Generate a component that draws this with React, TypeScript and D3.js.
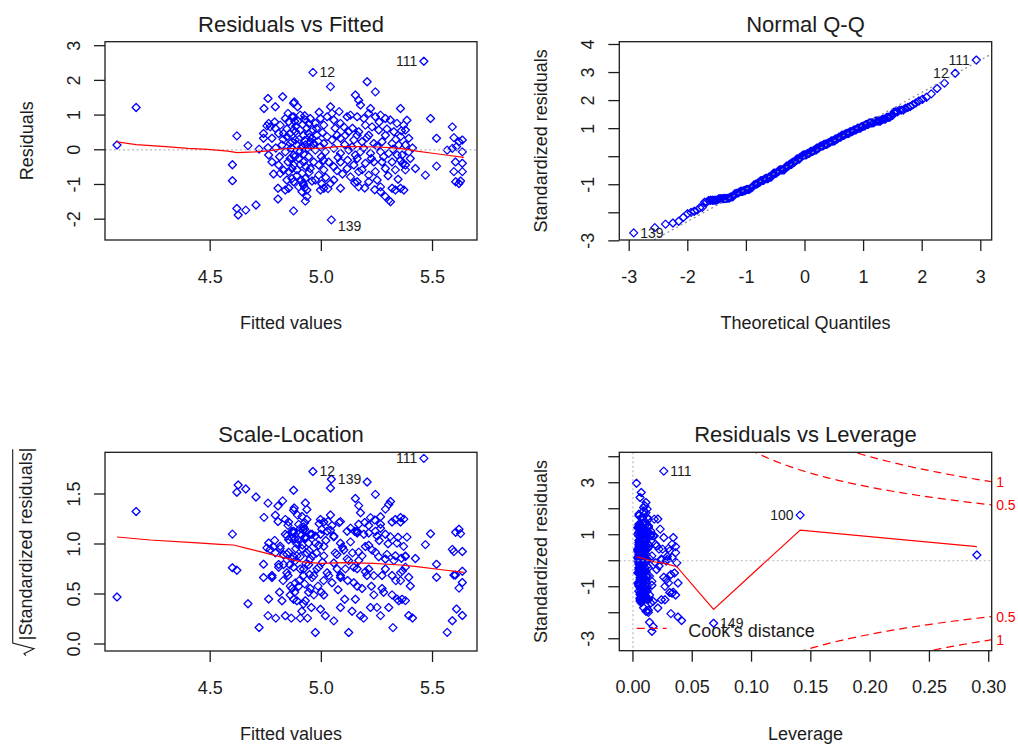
import React from "react";
import * as d3 from "d3";

// [fitted value, residual, leverage, observation id (only for labelled points)]
type Obs = [number, number, number, string?];

const observations: Obs[] = [
  [4.081, 0.14, 0.29], [4.167, 1.22, 0.141, "100"], [4.62, 0.4, 0.036], [4.6, -0.43, 0.031],
  [4.6, -0.89, 0.034], [4.62, -1.69, 0.041], [4.626, -1.88, 0.017], [4.66, -1.74, 0.068, "149"],
  [4.706, -1.59, 0.038], [4.67, 0.12, 0.029], [4.72, 0.02, 0.024],
  [4.76, 1.48, 0.012], [4.826, 1.53, 0.009], [4.742, 1.19, 0.021], [4.793, 1.24, 0.007],
  [4.875, 1.34, 0.005], [4.763, 0.76, 0.015], [4.755, 0.69, 0.01], [4.77, 0.66, 0.026],
  [4.793, 0.62, 0.008], [4.808, 0.47, 0.013], [4.838, 0.9, 0.006], [4.853, 0.81, 0.011],
  [4.868, 0.95, 0.004], [4.83, 0.47, 0.019], [4.845, 0.38, 0.007], [4.823, 0.14, 0.01],
  [4.86, 0.18, 0.006], [4.74, 0.47, 0.033], [4.74, 0.33, 0.012], [4.778, 0.33, 0.009],
  [4.76, 0.06, 0.014], [4.763, -0.15, 0.022], [4.778, -0.35, 0.008], [4.808, -0.44, 0.011],
  [4.815, -0.68, 0.006], [4.83, -0.59, 0.016], [4.853, -0.63, 0.005], [4.868, -0.54, 0.009],
  [4.845, -0.87, 0.012], [4.868, -0.83, 0.007], [4.805, -1.11, 0.027], [4.805, -1.42, 0.013],
  [4.838, -1.16, 0.008], [4.853, -1.11, 0.01], [4.875, -1.76, 0.014], [4.875, -0.15, 0.006],
  [4.86, -0.25, 0.008], [4.838, -0.06, 0.005], [4.875, 0.57, 0.009], [4.883, 0.28, 0.004],
  [4.815, 0.71, 0.018],
  [4.962, 2.23, 0.003, "12"], [5.041, 1.82, 0.006], [4.878, 1.38, 0.011], [4.893, 1.24, 0.008],
  [4.875, 0.95, 0.013], [4.905, 1.0, 0.005], [4.928, 0.86, 0.007], [4.943, 0.76, 0.004],
  [4.973, 0.76, 0.009], [4.996, 0.9, 0.006], [5.041, 1.24, 0.012], [5.048, 1.05, 0.005],
  [5.056, 0.86, 0.008], [5.011, 0.71, 0.017], [5.153, 1.58, 0.01], [5.116, 0.95, 0.007],
  [5.131, 1.0, 0.013], [5.086, 0.76, 0.006], [5.101, 0.66, 0.009], [4.883, 0.52, 0.005],
  [4.905, 0.57, 0.01], [4.92, 0.42, 0.006], [4.943, 0.47, 0.008], [4.958, 0.33, 0.004],
  [4.966, 0.18, 0.011], [4.98, 0.42, 0.005], [4.868, 0.23, 0.007], [4.89, 0.14, 0.009],
  [4.928, 0.14, 0.005], [4.95, 0.23, 0.006], [4.973, -0.01, 0.004], [4.996, 0.09, 0.008],
  [5.011, 0.18, 0.005], [5.026, 0.38, 0.007], [5.048, 0.28, 0.01], [5.071, 0.42, 0.006],
  [5.086, 0.33, 0.005], [5.108, 0.42, 0.014], [5.123, 0.52, 0.006], [5.146, 0.28, 0.008],
  [5.161, 0.42, 0.02], [5.018, -0.06, 0.006], [5.056, 0.04, 0.009], [5.086, -0.1, 0.005],
  [5.123, -0.01, 0.012], [5.153, -0.15, 0.007], [4.88, -0.2, 0.01], [4.898, -0.25, 0.005],
  [4.92, -0.35, 0.008], [4.943, -0.2, 0.006], [4.875, -0.44, 0.012], [4.89, -0.58, 0.007],
  [4.913, -0.68, 0.005], [4.928, -0.83, 0.009], [4.95, -0.54, 0.006], [4.966, -0.35, 0.004],
  [4.988, -0.44, 0.007], [5.011, -0.58, 0.01], [5.033, -0.35, 0.005], [5.056, -0.49, 0.008],
  [5.086, -0.35, 0.006], [5.116, -0.54, 0.011], [5.146, -0.44, 0.007], [5.168, -0.63, 0.009],
  [4.875, -0.92, 0.008], [4.898, -1.07, 0.006], [4.92, -1.02, 0.011], [4.935, -1.16, 0.007],
  [4.913, -1.21, 0.015], [4.935, -1.35, 0.009], [4.928, -1.48, 0.013], [4.996, -1.16, 0.007],
  [5.011, -1.11, 0.012], [5.041, -0.97, 0.006], [5.056, -0.87, 0.009], [5.086, -1.11, 0.024],
  [5.045, -2.02, 0.016, "139"], [4.988, -0.73, 0.005], [4.973, -0.87, 0.008], [5.131, -0.78, 0.006],
  [5.161, -0.92, 0.01],
  [5.461, 2.55, 0.026, "111"], [5.206, 1.96, 0.007], [5.243, 1.67, 0.011], [5.168, 1.43, 0.009],
  [5.176, 1.29, 0.005], [5.221, 1.19, 0.013], [5.213, 1.05, 0.006], [5.356, 1.19, 0.018],
  [5.161, 0.95, 0.005], [5.191, 0.9, 0.008], [5.243, 0.95, 0.006], [5.266, 1.0, 0.01],
  [5.288, 0.9, 0.007], [5.31, 0.86, 0.012], [5.34, 0.76, 0.008], [5.37, 0.71, 0.015],
  [5.378, 0.57, 0.01], [5.198, 0.71, 0.005], [5.228, 0.66, 0.009], [5.258, 0.57, 0.006],
  [5.168, 0.52, 0.008], [5.213, 0.42, 0.005], [5.288, 0.42, 0.011], [5.326, 0.52, 0.007],
  [5.356, 0.38, 0.013], [5.393, 0.33, 0.022], [5.183, 0.23, 0.006], [5.236, 0.18, 0.008],
  [5.273, 0.23, 0.005], [5.318, 0.18, 0.009], [5.348, 0.14, 0.007], [5.378, 0.14, 0.016],
  [5.176, -0.06, 0.005], [5.221, -0.1, 0.007], [5.266, -0.06, 0.01], [5.303, -0.1, 0.006],
  [5.341, -0.15, 0.012], [5.363, -0.15, 0.008], [5.393, -0.06, 0.019], [5.161, -0.25, 0.006],
  [5.198, -0.39, 0.009], [5.236, -0.35, 0.005], [5.273, -0.35, 0.007], [5.318, -0.35, 0.01],
  [5.356, -0.3, 0.006], [5.378, -0.44, 0.014], [5.423, -0.54, 0.028], [5.183, -0.58, 0.007],
  [5.213, -0.73, 0.005], [5.243, -0.63, 0.009], [5.288, -0.54, 0.006], [5.333, -0.58, 0.011],
  [5.378, -0.58, 0.008], [5.168, -1.07, 0.01], [5.213, -0.92, 0.006], [5.251, -0.87, 0.008],
  [5.266, -1.07, 0.012], [5.266, -1.21, 0.007], [5.288, -1.35, 0.021], [5.318, -1.11, 0.009],
  [5.333, -1.16, 0.006], [5.356, -1.11, 0.013], [5.371, -1.16, 0.017], [5.303, -1.45, 0.011],
  [5.311, -1.5, 0.032], [5.468, -0.73, 0.027],
  [5.491, 0.9, 0.023], [5.589, 0.66, 0.034], [5.518, 0.33, 0.025], [5.596, 0.35, 0.03],
  [5.619, 0.23, 0.036], [5.634, 0.28, 0.031], [5.608, 0.09, 0.033], [5.634, -0.06, 0.037],
  [5.589, 0.04, 0.029], [5.566, -0.01, 0.028], [5.603, -0.35, 0.035], [5.634, -0.39, 0.032],
  [5.596, -0.63, 0.03], [5.634, -0.63, 0.038], [5.604, -0.92, 0.033], [5.619, -0.97, 0.036],
  [5.626, -0.9, 0.031], [5.518, -0.47, 0.026],
  [4.9, 0.3, 0.006], [4.912, 0.08, 0.004], [4.925, 0.27, 0.007], [4.938, 0.05, 0.005],
  [4.947, 0.36, 0.009], [4.955, 0.1, 0.004], [4.935, 0.62, 0.006], [4.95, 0.9, 0.008],
  [4.96, 0.58, 0.005], [4.915, 0.73, 0.011], [4.895, 0.82, 0.007], [4.885, 0.68, 0.006],
  [4.905, -0.05, 0.005], [4.92, -0.12, 0.009], [4.93, -0.48, 0.006], [4.945, -0.65, 0.004],
  [4.958, -0.9, 0.007], [4.91, -0.88, 0.005], [4.918, -0.97, 0.01], [4.925, -1.1, 0.006],
  [4.905, -0.42, 0.008], [4.89, -0.75, 0.012], [4.865, 0.05, 0.006], [4.85, -0.35, 0.008],
  [4.845, 0.6, 0.011], [4.858, 0.47, 0.005], [4.828, 0.3, 0.007], [4.812, -0.2, 0.013],
  [4.795, 0.05, 0.01], [4.785, -0.7, 0.016], [4.85, 1.05, 0.009], [4.88, 0.82, 0.005],
  [4.925, 0.98, 0.013], [4.978, 0.62, 0.006], [4.985, 0.25, 0.009], [5.0, -0.2, 0.005],
  [5.005, 0.5, 0.007], [5.02, -0.8, 0.011], [5.03, -1.12, 0.008], [5.002, -0.98, 0.014],
  [5.026, 0.95, 0.006], [5.062, 0.62, 0.01], [5.075, -0.22, 0.007], [5.095, -0.7, 0.005],
  [5.105, 0.15, 0.008], [5.118, -0.3, 0.011], [5.138, 0.08, 0.006], [5.14, 0.62, 0.009],
  [5.15, -0.95, 0.007], [5.19, 0.05, 0.005], [5.205, 0.35, 0.008], [5.225, -0.25, 0.006],
  [5.25, 0.1, 0.01], [5.26, 0.8, 0.007], [5.28, -0.2, 0.005], [5.295, 0.6, 0.009],
  [5.3, -0.75, 0.008], [5.322, 0.02, 0.012], [5.335, 0.3, 0.006], [5.345, -0.85, 0.01],
  [5.36, 0.55, 0.007], [5.365, -0.4, 0.009], [5.385, 0.85, 0.015], [5.4, -0.25, 0.02],
  [5.41, 0.05, 0.024], [5.24, -1.15, 0.008], [5.195, -1.1, 0.013], [5.08, 1.1, 0.011],
  [5.07, -0.6, 0.006], [4.99, 1.08, 0.008], [5.01, -0.3, 0.006], [4.79, 0.8, 0.012],
];

const residualStdError = 0.75;
const numCoefficients = 4;
const cookLevels = [0.5, 1];

// smoothers
const residSmoothX = [4.081, 4.167, 4.3, 4.4, 4.49, 4.58, 4.62, 4.7, 4.76, 4.83, 4.9, 5.0, 5.07, 5.16, 5.25, 5.31, 5.38, 5.43, 5.5, 5.56, 5.641];
const residSmoothY = [0.23, 0.15, 0.09, 0.04, 0.01, -0.04, -0.08, -0.06, -0.03, 0.03, 0.04, 0.05, 0.09, 0.09, 0.08, 0.06, 0.02, -0.04, -0.1, -0.15, -0.22];
const scaleSmoothX = [4.081, 4.23, 4.425, 4.545, 4.605, 4.665, 4.755, 4.83, 4.905, 4.995, 5.116, 5.236, 5.356, 5.43, 5.551, 5.641];
const scaleSmoothY = [1.07, 1.04, 1.013, 0.997, 0.99, 0.957, 0.907, 0.863, 0.823, 0.807, 0.813, 0.807, 0.79, 0.773, 0.74, 0.717];
const levSmoothX = [0.003, 0.0104, 0.0174, 0.027, 0.037, 0.068, 0.141, 0.29];
const levSmoothY = [0.15, 0.065, -0.04, -0.1, -0.23, -1.87, 1.18, 0.54];

const fittedTicks = [4.5, 5.0, 5.5];
const fittedTickLabels = ["4.5", "5.0", "5.5"];
const residTicks = [-2, -1, 0, 1, 2, 3];
const residTickLabels = ["-2", "-1", "0", "1", "2", "3"];
const qqXTicks = [-3, -2, -1, 0, 1, 2, 3];
const qqXTickLabels = ["-3", "-2", "-1", "0", "1", "2", "3"];
const qqYTicks = [-3, -2, -1, 0, 1, 2, 3, 4];
const qqYTickLabels = ["-3", "", "-1", "", "1", "2", "3", "4"];
const slTicks = [0, 0.5, 1.0, 1.5];
const slTickLabels = ["0.0", "0.5", "1.0", "1.5"];
const levXTicks = [0, 0.05, 0.1, 0.15, 0.2, 0.25, 0.3];
const levXTickLabels = ["0.00", "0.05", "0.10", "0.15", "0.20", "0.25", "0.30"];
const levYTicks = [-3, -2, -1, 0, 1, 2, 3, 4];
const levYTickLabels = ["-3", "", "-1", "", "1", "", "3", ""];

const FONT = "'Liberation Sans', Arial, Helvetica, sans-serif";
const INK = "#1c1c1c";
const BLUE = "#0000ff";
const RED = "#ff0000";
const GRAY = "#b8b8b8";

function qnorm(p: number): number {
  const a = [-3.969683028665376e1, 2.209460984245205e2, -2.759285104469687e2, 1.38357751867269e2, -3.066479806614716e1, 2.506628277459239];
  const b = [-5.447609879822406e1, 1.615858368580409e2, -1.556989798598866e2, 6.680131188771972e1, -1.328068155288572e1];
  const c = [-7.784894002430293e-3, -3.223964580411365e-1, -2.400758277161838, -2.549732539343734, 4.374664141464968, 2.938163982698783];
  const d = [7.784695709041462e-3, 3.224671290700398e-1, 2.445134137142996, 3.754408661907416];
  const plow = 0.02425;
  if (p < plow) {
    const q = Math.sqrt(-2 * Math.log(p));
    return (((((c[0] * q + c[1]) * q + c[2]) * q + c[3]) * q + c[4]) * q + c[5]) / ((((d[0] * q + d[1]) * q + d[2]) * q + d[3]) * q + 1);
  }
  if (p <= 1 - plow) {
    const q = p - 0.5, r = q * q;
    return ((((((a[0] * r + a[1]) * r + a[2]) * r + a[3]) * r + a[4]) * r + a[5]) * q) / (((((b[0] * r + b[1]) * r + b[2]) * r + b[3]) * r + b[4]) * r + 1);
  }
  const q = Math.sqrt(-2 * Math.log(1 - p));
  return -(((((c[0] * q + c[1]) * q + c[2]) * q + c[3]) * q + c[4]) * q + c[5]) / ((((d[0] * q + d[1]) * q + d[2]) * q + d[3]) * q + 1);
}

type Box = { x0: number; x1: number; y0: number; y1: number };

function diamond(x: number, y: number, s = 4.0) {
  return `M${x},${y - s}L${x + s},${y}L${x},${y + s}L${x - s},${y}Z`;
}

function Frame(props: {
  id: string; box: Box; title: string; xTitle: string; yTitle: React.ReactNode;
  xs: d3.ScaleLinear<number, number>; ys: d3.ScaleLinear<number, number>;
  xTicks: number[]; xLabels: string[]; yTicks: number[]; yLabels: string[];
  children?: React.ReactNode; overlay?: React.ReactNode;
}) {
  const { id, box, xs, ys } = props;
  const cx = (box.x0 + box.x1) / 2;
  const cy = (box.y0 + box.y1) / 2;
  return (
    <g fontFamily={FONT} fill={INK}>
      <defs>
        <clipPath id={id}>
          <rect x={box.x0} y={box.y0} width={box.x1 - box.x0} height={box.y1 - box.y0} />
        </clipPath>
      </defs>
      <g clipPath={`url(#${id})`}>{props.children}</g>
      {props.overlay}
      <rect x={box.x0} y={box.y0} width={box.x1 - box.x0} height={box.y1 - box.y0} fill="none" stroke={INK} strokeWidth={1.3} />
      {props.xTicks.map((t, i) => (
        <g key={"x" + i}>
          <line x1={xs(t)} x2={xs(t)} y1={box.y1} y2={box.y1 + 11} stroke={INK} strokeWidth={1.3} />
          <text x={xs(t)} y={box.y1 + 42.5} textAnchor="middle" fontSize={18}>{props.xLabels[i]}</text>
        </g>
      ))}
      {props.yTicks.map((t, i) => (
        <g key={"y" + i}>
          <line x1={box.x0 - 11} x2={box.x0} y1={ys(t)} y2={ys(t)} stroke={INK} strokeWidth={1.3} />
          {props.yLabels[i] ? (
            <text transform={`translate(${box.x0 - 25.5},${ys(t)}) rotate(-90)`} textAnchor="middle" fontSize={18}>{props.yLabels[i]}</text>
          ) : null}
        </g>
      ))}
      <text x={cx} y={box.y0 - 10} textAnchor="middle" fontSize={22}>{props.title}</text>
      <text x={cx} y={box.y1 + 89} textAnchor="middle" fontSize={18}>{props.xTitle}</text>
      {typeof props.yTitle === "string" ? (
        <text transform={`translate(${box.x0 - 72},${cy}) rotate(-90)`} textAnchor="middle" fontSize={18}>{props.yTitle}</text>
      ) : (
        <g transform={`translate(${box.x0 - 73},${cy}) rotate(-90)`}>{props.yTitle}</g>
      )}
    </g>
  );
}

function PointLabel(props: { x: number; y: number; text: string; side: "left" | "right"; dy?: number }) {
  const off = 6.5;
  return (
    <text
      x={props.side === "right" ? props.x + off : props.x - off}
      y={props.y + (props.dy || 0)}
      dy="0.36em"
      textAnchor={props.side === "right" ? "start" : "end"}
      fontSize={14}
      fontFamily={FONT}
      fill={INK}
    >
      {props.text}
    </text>
  );
}

export default function App() {
  const n = observations.length;
  const fitted = observations.map((o) => o[0]);
  const resid = observations.map((o) => o[1]);
  const lev = observations.map((o) => o[2]);
  const ids = observations.map((o) => o[3]);
  const stdRes = observations.map((o) => o[1] / (residualStdError * Math.sqrt(1 - o[2])));
  const idx = (id: string) => ids.indexOf(id);

  const b1: Box = { x0: 105, x1: 477, y0: 41.7, y1: 240 };
  const b2: Box = { x0: 619.3, x1: 991.7, y0: 41.7, y1: 240 };
  const b3: Box = { x0: 105, x1: 477, y0: 452.3, y1: 651 };
  const b4: Box = { x0: 619.3, x1: 991.7, y0: 452.3, y1: 650.7 };

  const x1s = d3.scaleLinear().domain([4.027, 5.7]).range([b1.x0, b1.x1]);
  const y1s = d3.scaleLinear().domain([-2.6, 3.115]).range([b1.y1, b1.y0]);
  const x2s = d3.scaleLinear().domain([-3.169, 3.186]).range([b2.x0, b2.x1]);
  const y2s = d3.scaleLinear().domain([-2.97, 4.1]).range([b2.y1, b2.y0]);
  const x3s = d3.scaleLinear().domain([4.027, 5.7]).range([b3.x0, b3.x1]);
  const y3s = d3.scaleLinear().domain([-0.07, 1.917]).range([b3.y1, b3.y0]);
  const x4s = d3.scaleLinear().domain([-0.0115, 0.3025]).range([b4.x0, b4.x1]);
  const y4s = d3.scaleLinear().domain([-3.46, 4.17]).range([b4.y1, b4.y0]);

  // Q-Q
  const order = d3.range(n).sort((a, b) => stdRes[a] - stdRes[b]);
  const theo: number[] = new Array(n);
  order.forEach((oi, k) => { theo[oi] = qnorm((k + 1 - 0.5) / n); });
  const sortedStd = order.map((i) => stdRes[i]);
  const qy1 = d3.quantile(sortedStd, 0.25) as number;
  const qy2 = d3.quantile(sortedStd, 0.75) as number;
  const qx1 = qnorm(0.25), qx2 = qnorm(0.75);
  const qSlope = (qy2 - qy1) / (qx2 - qx1);
  const qInt = qy1 - qSlope * qx1;

  const sqrtAbs = stdRes.map((s) => Math.sqrt(Math.abs(s)));

  const lineGen = d3.line<[number, number]>();

  const residSmooth = lineGen(residSmoothX.map((x, i) => [x1s(x), y1s(residSmoothY[i])] as [number, number]));
  const scaleSmooth = lineGen(scaleSmoothX.map((x, i) => [x3s(x), y3s(scaleSmoothY[i])] as [number, number]));
  const levSmooth = lineGen(levSmoothX.map((x, i) => [x4s(x), y4s(levSmoothY[i])] as [number, number]));

  // Cook's distance contours
  const usr = x4s.domain();
  const hRange = d3.extent(lev) as [number, number];
  const hStart = Math.min(hRange[0], hRange[1] / 100, usr[0]);
  const hh = d3.range(101).map((i) => hStart + (i * (usr[1] - hStart)) / 100);
  const cookPaths: string[] = [];
  cookLevels.forEach((lvl) => {
    [1, -1].forEach((sg) => {
      const pts = hh.filter((h) => h > 0).map((h) => [x4s(h), y4s(sg * Math.sqrt((lvl * numCoefficients * (1 - h)) / h))] as [number, number]);
      cookPaths.push(lineGen(pts) || "");
    });
  });
  const xmax = Math.min(0.99, usr[1]);
  const cookLabelY = cookLevels.map((l) => Math.sqrt((l * numCoefficients * (1 - xmax)) / xmax));

  const i111 = idx("111"), i12 = idx("12"), i139 = idx("139"), i100 = idx("100"), i149 = idx("149");

  const pts = (xs: number[], ys: number[], sx: any, sy: any) => (
    <path d={xs.map((x, i) => diamond(sx(x), sy(ys[i]))).join("")} fill="none" stroke={BLUE} strokeWidth={1.3} strokeLinejoin="round" />
  );

  const sqrtLabel = (
    <g>
      <path d="M-104,-6 L-102,-8 L-97,2 L-91.4,-19.3 L102.3,-19.3" fill="none" stroke={INK} strokeWidth={1.1} />
      <text x={-88.5} y={0} fontSize={18} fontFamily={FONT} fill={INK}>|Standardized residuals|</text>
    </g>
  );

  return (
    <svg width={1018} height={744} style={{ position: "absolute", left: 0, top: 0, background: "#fff" }}>
      <rect x={0} y={0} width={1018} height={744} fill="#fff" />

      <Frame id="c1" box={b1} title="Residuals vs Fitted" xTitle="Fitted values" yTitle="Residuals"
        xs={x1s} ys={y1s} xTicks={fittedTicks} xLabels={fittedTickLabels} yTicks={residTicks} yLabels={residTickLabels}
        overlay={<g>
          <PointLabel x={x1s(fitted[i111])} y={y1s(resid[i111])} text="111" side="left" />
          <PointLabel x={x1s(fitted[i12])} y={y1s(resid[i12])} text="12" side="right" />
          <PointLabel x={x1s(fitted[i139])} y={y1s(resid[i139])} text="139" side="right" dy={6} />
        </g>}>
        {pts(fitted, resid, x1s, y1s)}
        <line x1={b1.x0} x2={b1.x1} y1={y1s(0)} y2={y1s(0)} stroke={GRAY} strokeWidth={1.2} strokeDasharray="2,2.5" />
        <path d={residSmooth || ""} fill="none" stroke={RED} strokeWidth={1.2} />
      </Frame>

      <Frame id="c2" box={b2} title="Normal Q-Q" xTitle="Theoretical Quantiles" yTitle="Standardized residuals"
        xs={x2s} ys={y2s} xTicks={qqXTicks} xLabels={qqXTickLabels} yTicks={qqYTicks} yLabels={qqYTickLabels}
        overlay={<g>
          <PointLabel x={x2s(theo[i111])} y={y2s(stdRes[i111])} text="111" side="left" />
          <PointLabel x={x2s(theo[i12])} y={y2s(stdRes[i12])} text="12" side="left" />
          <PointLabel x={x2s(theo[i139])} y={y2s(stdRes[i139])} text="139" side="right" />
        </g>}>
        {pts(theo, stdRes, x2s, y2s)}
        <line x1={x2s(-3.169)} x2={x2s(3.186)} y1={y2s(qInt + qSlope * -3.169)} y2={y2s(qInt + qSlope * 3.186)}
          stroke="#8c8c8c" strokeWidth={1.2} strokeDasharray="2,3" />
      </Frame>

      <Frame id="c3" box={b3} title="Scale-Location" xTitle="Fitted values" yTitle={sqrtLabel}
        xs={x3s} ys={y3s} xTicks={fittedTicks} xLabels={fittedTickLabels} yTicks={slTicks} yLabels={slTickLabels}
        overlay={<g>
          <PointLabel x={x3s(fitted[i111])} y={y3s(sqrtAbs[i111])} text="111" side="left" />
          <PointLabel x={x3s(fitted[i12])} y={y3s(sqrtAbs[i12])} text="12" side="right" />
          <PointLabel x={x3s(fitted[i139])} y={y3s(sqrtAbs[i139])} text="139" side="right" />
        </g>}>
        {pts(fitted, sqrtAbs, x3s, y3s)}
        <path d={scaleSmooth || ""} fill="none" stroke={RED} strokeWidth={1.2} />
      </Frame>

      <Frame id="c4" box={b4} title="Residuals vs Leverage" xTitle="Leverage" yTitle="Standardized residuals"
        xs={x4s} ys={y4s} xTicks={levXTicks} xLabels={levXTickLabels} yTicks={levYTicks} yLabels={levYTickLabels}
        overlay={<g>
          <PointLabel x={x4s(lev[i111])} y={y4s(stdRes[i111])} text="111" side="right" />
          <PointLabel x={x4s(lev[i100])} y={y4s(stdRes[i100])} text="100" side="left" />
          <PointLabel x={x4s(lev[i149])} y={y4s(stdRes[i149])} text="149" side="right" />
          {cookLevels.map((l, i) => (
            <g key={"cl" + i}>
              <text x={b4.x1 + 4.5} y={y4s(cookLabelY[i])} dy="0.36em" fontSize={14} fill={RED} fontFamily={FONT}>{String(l)}</text>
              <text x={b4.x1 + 4.5} y={y4s(-cookLabelY[i])} dy="0.36em" fontSize={14} fill={RED} fontFamily={FONT}>{String(l)}</text>
            </g>
          ))}
          <line x1={636.7} x2={666.7} y1={628.3} y2={628.3} stroke={RED} strokeWidth={1.2} strokeDasharray="8,5" />
          <text x={688.3} y={636.5} fontSize={18} fontFamily={FONT} fill={INK}>Cook's distance</text>
        </g>}>
        {pts(lev, stdRes, x4s, y4s)}
        <line x1={b4.x0} x2={b4.x1} y1={y4s(0)} y2={y4s(0)} stroke={GRAY} strokeWidth={1.2} strokeDasharray="2,2.5" />
        <line x1={x4s(0)} x2={x4s(0)} y1={b4.y0} y2={b4.y1} stroke={GRAY} strokeWidth={1.2} strokeDasharray="2,2.5" />
        <path d={levSmooth || ""} fill="none" stroke={RED} strokeWidth={1.2} />
        {cookPaths.map((d, i) => (
          <path key={"cp" + i} d={d} fill="none" stroke={RED} strokeWidth={1.2} strokeDasharray="8,5" />
        ))}
      </Frame>
    </svg>
  );
}
